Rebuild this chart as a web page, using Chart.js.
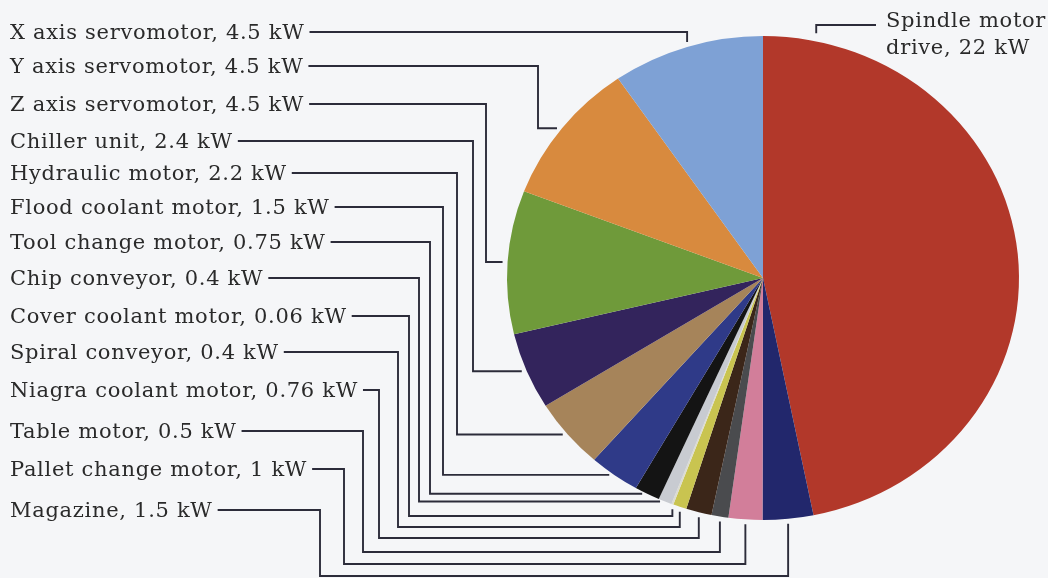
<!DOCTYPE html>
<html lang="en">
<head>
  <meta charset="UTF-8" />
  <title>Machine tool power breakdown</title>
  <script src="https://cdn.jsdelivr.net/npm/chart.js"></script>
  <style>
    body {
      margin: 0;
      padding: 0;
      background-color: #f5f6f8;
    }
    canvas {
      display: block;
    }
  </style>
</head>
<body>
  <canvas id="powerPie" width="1048" height="578"></canvas>

  <script>
    // Loads, listed clockwise starting at 12 o'clock
    const machines = [
      'Spindle motor drive', 'Magazine', 'Pallet change motor', 'Table motor',
      'Niagra coolant motor', 'Spiral conveyor', 'Cover coolant motor', 'Chip conveyor',
      'Tool change motor', 'Flood coolant motor', 'Hydraulic motor', 'Chiller unit',
      'Z axis servomotor', 'Y axis servomotor', 'X axis servomotor'
    ];
    const powerKW = [22, 1.5, 1, 0.5, 0.76, 0.4, 0.06, 0.4, 0.75, 1.5, 2.2, 2.4, 4.5, 4.5, 4.5];
    const sliceColors = [
      '#b2382a', '#22276c', '#d27e9a', '#4a4b4e', '#3b2619', '#c9c450', '#dcdcd0', '#c8cbd1',
      '#141414', '#2f3a88', '#a6845a', '#33245c', '#6f9a3a', '#d88a3e', '#7ea1d5'
    ];

    const FONT = '21px "DejaVu Serif", serif';
    const INK = '#2a2a2a';
    const WIRE = '#2c2c3a';
    const SQUASH = 0.945;   // pie is drawn slightly flattened

    // label rows on the left, top to bottom (dataset index, row y, trunk x, bus y)
    const rows = [
      { i: 14, y: 32 },
      { i: 13, y: 66, trunk: 538 },
      { i: 12, y: 104, trunk: 486 },
      { i: 11, y: 141, trunk: 473 },
      { i: 10, y: 173, trunk: 457 },
      { i: 9, y: 207, trunk: 443 },
      { i: 8, y: 242, trunk: 430 },
      { i: 7, y: 278, trunk: 419 },
      { i: 6, y: 316, trunk: 409, bus: 516 },
      { i: 5, y: 352, trunk: 398, bus: 527 },
      { i: 4, y: 390, trunk: 379, bus: 538 },
      { i: 3, y: 431, trunk: 363, bus: 552 },
      { i: 2, y: 469, trunk: 344, bus: 564 },
      { i: 1, y: 510, trunk: 320, bus: 576 }
    ];

    function labelText(i) {
      return machines[i] + ', ' + powerKW[i] + ' kW';
    }

    function edgePoint(arc, angle) {
      return {
        x: arc.x + arc.outerRadius * Math.cos(angle),
        y: arc.y + arc.outerRadius * Math.sin(angle) * SQUASH
      };
    }

    const squashPie = {
      id: 'squashPie',
      beforeDatasetsDraw(chart) {
        const ctx = chart.ctx;
        const arc = chart.getDatasetMeta(0).data[0];
        ctx.save();
        ctx.translate(arc.x, arc.y);
        ctx.scale(1, SQUASH);
        ctx.translate(-arc.x, -arc.y);
      },
      afterDatasetsDraw(chart) {
        chart.ctx.restore();
      }
    };

    const leaderLabels = {
      id: 'leaderLabels',
      afterDraw(chart) {
        const ctx = chart.ctx;
        const arcs = chart.getDatasetMeta(0).data;
        const gap = 5;
        ctx.save();
        ctx.font = FONT;
        ctx.letterSpacing = '0.7px';
        ctx.fillStyle = INK;
        ctx.strokeStyle = WIRE;
        ctx.lineWidth = 1.9;
        ctx.textBaseline = 'alphabetic';

        rows.forEach(r => {
          const arc = arcs[r.i];
          const p = edgePoint(arc, (arc.startAngle + arc.endAngle) / 2);
          const text = labelText(r.i);
          ctx.fillText(text, 10, r.y + 6.5);
          const x0 = 10 + ctx.measureText(text).width + 5;

          ctx.beginPath();
          ctx.moveTo(x0, r.y);
          if (r.trunk === undefined) {
            ctx.lineTo(p.x, r.y);
            ctx.lineTo(p.x, p.y - gap);
          } else if (r.bus === undefined) {
            ctx.lineTo(r.trunk, r.y);
            ctx.lineTo(r.trunk, p.y);
            ctx.lineTo(p.x - gap, p.y);
          } else {
            ctx.lineTo(r.trunk, r.y);
            ctx.lineTo(r.trunk, r.bus);
            ctx.lineTo(p.x, r.bus);
            ctx.lineTo(p.x, p.y + gap);
          }
          ctx.stroke();
        });

        // spindle label sits top right, wrapped on two lines
        const spindle = arcs[0];
        const sp = edgePoint(spindle, spindle.startAngle + 12 * Math.PI / 180);
        const words = labelText(0).split(' ');
        ctx.fillText(words.slice(0, 2).join(' '), 886, 27);
        ctx.fillText(words.slice(2).join(' '), 886, 54);
        ctx.beginPath();
        ctx.moveTo(sp.x, sp.y - 8);
        ctx.lineTo(sp.x, 25);
        ctx.lineTo(876, 25);
        ctx.stroke();
        ctx.restore();
      }
    };

    new Chart(document.getElementById('powerPie').getContext('2d'), {
      type: 'pie',
      data: {
        labels: machines,
        datasets: [{
          data: powerKW,
          backgroundColor: sliceColors,
          borderWidth: 0,
          hoverOffset: 0
        }]
      },
      options: {
        responsive: false,
        animation: false,
        events: [],
        layout: {
          padding: { left: 507, right: 29, top: 22, bottom: 44 }
        },
        plugins: {
          legend: { display: false },
          tooltip: { enabled: false }
        }
      },
      plugins: [squashPie, leaderLabels]
    });
  </script>
</body>
</html>
